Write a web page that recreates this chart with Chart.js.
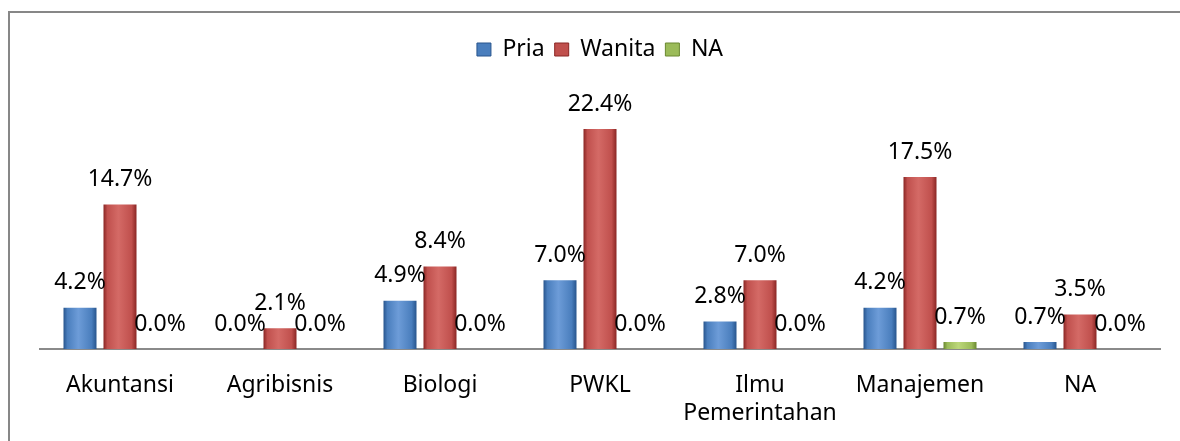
<!DOCTYPE html>
<html>
<head>
<meta charset="utf-8">
<script src="https://cdn.jsdelivr.net/npm/chart.js@4.4.1/dist/chart.umd.min.js"></script>
<style>
  html, body { margin: 0; padding: 0; background: #fff; }
  #wrap { position: relative; width: 1180px; height: 441px; overflow: hidden; }
  #frame { position: absolute; left: 8px; top: 11px; width: 1200px; height: 460px;
           border-left: 2px solid #878787; border-top: 2px solid #878787; box-sizing: border-box; }
  canvas { position: absolute; left: 0; top: 0; }
</style>
</head>
<body>
<div id="wrap">
  <div id="frame"></div>
  <canvas id="c" width="1180" height="441"></canvas>
</div>
<script>
const categories = ["Akuntansi", "Agribisnis", "Biologi", "PWKL", ["Ilmu", "Pemerintahan"], "Manajemen", "NA"];
const seriesNames = ["Pria", "Wanita", "NA"];
const pria   = [4.2, 0.0, 4.9, 7.0, 2.8, 4.2, 0.7];
const wanita = [14.7, 2.1, 8.4, 22.4, 7.0, 17.5, 3.5];
const na     = [0.0, 0.0, 0.0, 0.0, 0.0, 0.7, 0.0];

const palette = [
  { dark: "#28558d", mid: "#4a7ebd", light: "#6d9cd8" },
  { dark: "#8a2624", mid: "#c0504d", light: "#d46a66" },
  { dark: "#6a8830", mid: "#9bbb59", light: "#bcd77a" }
];
const CAT_PCT = 0.75, BAR_PCT = 0.825;

function barFill(ctx) {
  const p = palette[ctx.datasetIndex];
  if (ctx.type !== 'data') return p.mid;
  const chart = ctx.chart;
  const xs = chart.scales.x;
  if (!chart.chartArea || !xs) return p.mid;
  const catW = xs.width / categories.length;
  const slot = catW * CAT_PCT / 3;
  const w = slot * BAR_PCT;
  const cx = xs.getPixelForValue(ctx.dataIndex) + (ctx.datasetIndex - 1) * slot;
  const g = chart.ctx.createLinearGradient(cx - w / 2, 0, cx + w / 2, 0);
  g.addColorStop(0, p.dark);
  g.addColorStop(0.12, p.mid);
  g.addColorStop(0.45, p.light);
  g.addColorStop(0.85, p.mid);
  g.addColorStop(1, p.dark);
  return g;
}

const valueLabels = {
  id: 'valueLabels',
  afterDatasetsDraw(chart) {
    const c = chart.ctx;
    c.save();
    c.font = '23px "Noto Sans"';
    c.fillStyle = '#000';
    c.textAlign = 'center';
    c.textBaseline = 'middle';
    chart.data.datasets.forEach((ds, di) => {
      const meta = chart.getDatasetMeta(di);
      meta.data.forEach((el, i) => {
        c.fillText(ds.data[i].toFixed(1) + '%', el.x, el.y - 25);
      });
    });
    c.restore();
  }
};

Chart.defaults.font.family = '"Noto Sans", sans-serif';
Chart.defaults.color = '#000';

new Chart(document.getElementById('c'), {
  type: 'bar',
  data: {
    labels: categories,
    datasets: [
      { label: seriesNames[0], data: pria },
      { label: seriesNames[1], data: wanita },
      { label: seriesNames[2], data: na }
    ].map((d, i) => Object.assign(d, {
      backgroundColor: barFill,
      borderWidth: 0,
      categoryPercentage: CAT_PCT,
      barPercentage: BAR_PCT
    }))
  },
  options: {
    responsive: false,
    animation: false,
    devicePixelRatio: 1,
    layout: { padding: { top: 28, left: 40, right: 20, bottom: 0 } },
    plugins: {
      tooltip: { enabled: false },
      legend: {
        position: 'top',
        labels: {
          font: { size: 23 },
          boxWidth: 14,
          boxHeight: 13,
          padding: 10,
          generateLabels(chart) {
            return chart.data.datasets.map((ds, i) => ({
              text: ds.label,
              fillStyle: palette[i].mid,
              strokeStyle: palette[i].dark,
              lineWidth: 1,
              datasetIndex: i,
              hidden: false,
              fontColor: '#000'
            }));
          }
        }
      }
    },
    scales: {
      x: {
        grid: { display: false, drawTicks: false },
        border: { display: true, color: '#8a8a8a', width: 2 },
        ticks: { font: { size: 23, lineHeight: 1.22 }, padding: 22, color: '#000', maxRotation: 0, autoSkip: false },
        afterFit(scale) { scale.height = 92; }
      },
      y: {
        display: false,
        min: 0,
        max: 28.3
      }
    }
  },
  plugins: [valueLabels]
});
</script>
</body>
</html>
